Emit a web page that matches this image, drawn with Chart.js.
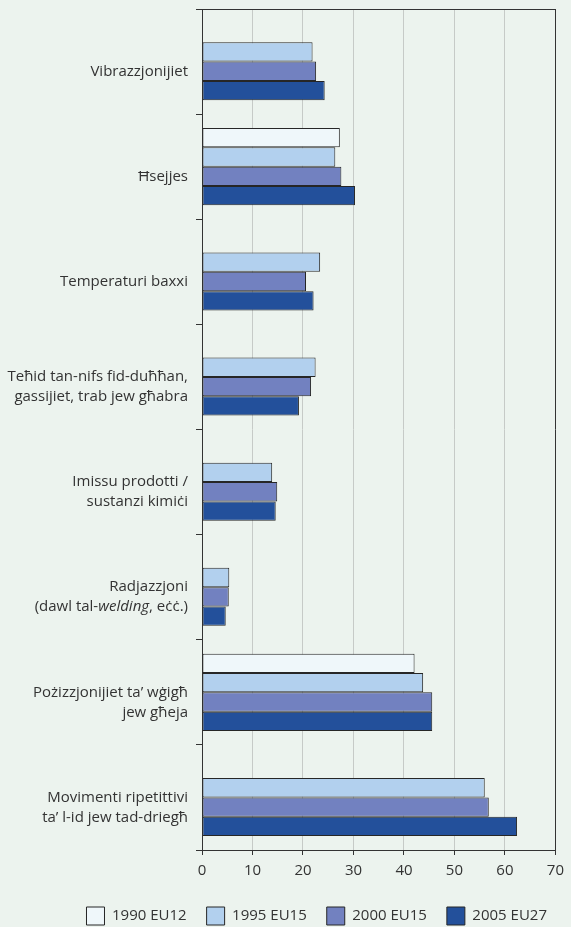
<!DOCTYPE html>
<html>
<head>
<meta charset="utf-8">
<script src="https://cdn.jsdelivr.net/npm/chart.js@4"></script>
<style>
  html, body { margin: 0; padding: 0; background: #ecf3ee; }
  .wrap { width: 571px; height: 927px; position: relative; }
</style>
</head>
<body>
<div class="wrap"><canvas id="barchart-risks"></canvas></div>
<script>
// categories, one line per entry
const categories = [
  ['Vibrazzjonijiet'],
  ['Ħsejjes'],
  ['Temperaturi baxxi'],
  ['Teħid tan-nifs fid-duħħan,', 'gassijiet, trab jew għabra'],
  ['Imissu prodotti /', 'sustanzi kimiċi'],
  ['Radjazzjoni', '(dawl tal-welding, eċċ.)'],
  ['Pożizzjonijiet ta’ wġigħ', 'jew għeja'],
  ['Movimenti ripetittivi', 'ta’ l-id jew tad-driegħ']
]
const italicWords = ['welding']

const v1990 = [null, 27.3, null, null, null, null, 42.1, null]
const v1995 = [21.9, 26.4, 23.4, 22.5, 13.9, 5.4, 43.8, 56.0]
const v2000 = [22.6, 27.6, 20.6, 21.6, 14.9, 5.3, 45.6, 56.8]
const v2005 = [24.3, 30.3, 22.1, 19.2, 14.6, 4.7, 45.6, 62.4]

const xMin = 0
const xMax = 70
const xStep = 10

const textColor = '#333'
const fontFamily = '"Open Sans", sans-serif'

// draw the y labels ourselves so that one word can be italic
const yLabels = {
  id: 'yLabels',
  afterDraw(chart){
    const ctx = chart.ctx
    const ys = chart.scales.y
    const right = ys.right - 14
    const lh = 20
    ctx.save()
    ctx.fillStyle = textColor
    ctx.textBaseline = 'middle'
    ctx.textAlign = 'left'
    categories.forEach((lines, i) =>{
      const cy = ys.getPixelForValue(i) + 10
      const y0 = cy - (lines.length - 1) * lh / 2
      lines.forEach((line, j) =>{
        // split into plain / italic parts
        let parts = [{t: line, it: false}]
        italicWords.forEach(w =>{
          const out = []
          parts.forEach(p =>{
            if (p.it || p.t.indexOf(w) < 0) { out.push(p); return }
            const k = p.t.indexOf(w)
            out.push({t: p.t.slice(0, k), it: false})
            out.push({t: w, it: true})
            out.push({t: p.t.slice(k + w.length), it: false})
          })
          parts = out
        })
        let total = 0
        parts.forEach(p =>{
          ctx.font = (p.it ? 'italic ' : '') + '15px ' + fontFamily
          p.w = ctx.measureText(p.t).width
          total += p.w
        })
        let x = right - total
        parts.forEach(p =>{
          ctx.font = (p.it ? 'italic ' : '') + '15px ' + fontFamily
          ctx.fillText(p.t, x, y0 + j * lh)
          x += p.w
        })
      })
    })
    ctx.restore()
  }
}

// legend: less height, and pushed a bit to the right
const legendShift = {
  id: 'legendShift',
  beforeInit(chart){
    const fit = chart.legend.fit
    chart.legend.fit = function(){
      fit.call(this)
      this.height -= 8
    }
  },
  beforeDraw(chart){
    chart.legend.left += 11
    chart.legend.right += 11
  }
}

const ctx = document.getElementById('barchart-risks')

new Chart(ctx, {
  type: 'bar',
  data: {
    labels: categories.map(c => c.join(' ')),
    datasets: [
      { label: '1990 EU12', data: v1990, backgroundColor: '#eff7fa' },
      { label: '1995 EU15', data: v1995, backgroundColor: '#b2d0ee' },
      { label: '2000 EU15', data: v2000, backgroundColor: '#7281c0' },
      { label: '2005 EU27', data: v2005, backgroundColor: '#23509b' }
    ].map(d => Object.assign(d, { borderColor: '#262626', borderWidth: 1, borderSkipped: false }))
  },
  options: {
    indexAxis: 'y',
    responsive: true,
    maintainAspectRatio: false,
    animation: false,
    datasets: {
      bar: { categoryPercentage: 0.735, barPercentage: 1 }
    },
    layout: { padding: { top: 9, right: 15, left: 0, bottom: 0 } },
    plugins: {
      tooltip: { enabled: false },
      legend: {
        position: 'bottom',
        align: 'end',
        labels: {
          boxWidth: 18,
          boxHeight: 18,
          padding: 20,
          color: textColor,
          font: { family: fontFamily, size: 15 }
        }
      }
    },
    scales: {
      x: {
        min: xMin,
        max: xMax,
        ticks: {
          stepSize: xStep,
          color: textColor,
          padding: 7,
          font: { family: fontFamily, size: 15 }
        },
        grid: {
          color: c => c.tick && c.tick.value === xMax ? '#333' : '#c6cac7',
          tickColor: '#333',
          tickLength: 5
        },
        border: { color: '#333' },
        afterFit(scale){ scale.height = 37 }
      },
      y: {
        ticks: { display: false },
        grid: {
          offset: true,
          color: c => c.index === 0 ? '#333' : 'rgba(0,0,0,0)',
          tickColor: '#333',
          tickLength: 6
        },
        border: { color: '#333' },
        afterFit(scale){ scale.width = 202 }
      }
    }
  },
  plugins: [yLabels, legendShift]
})
</script>
</body>
</html>
